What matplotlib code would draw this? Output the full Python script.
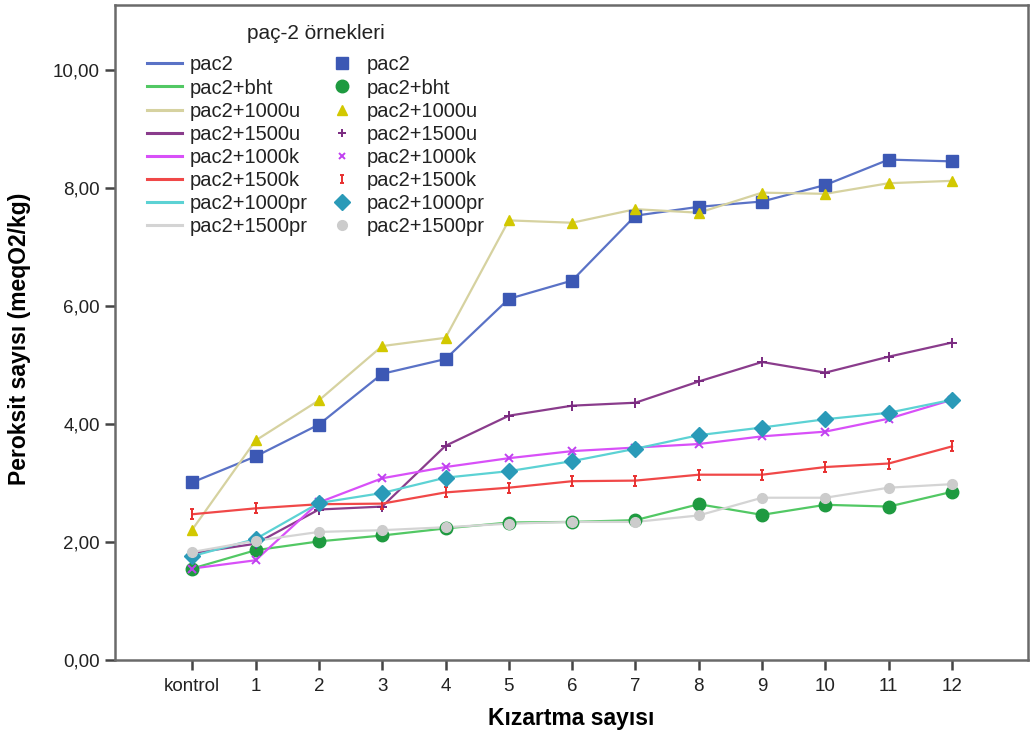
import matplotlib.pyplot as plt
import numpy as np
from matplotlib.path import Path
from matplotlib.lines import Line2D

plt.rcParams['font.family'] = ['Liberation Sans', 'DejaVu Sans']

x_labels = ['kontrol', '1', '2', '3', '4', '5', '6', '7', '8', '9', '10', '11', '12']

pac2 = [3.01, 3.45, 3.99, 4.85, 5.10, 6.12, 6.43, 7.53, 7.68, 7.77, 8.05, 8.48, 8.45]
pac2_bht = [1.55, 1.86, 2.01, 2.11, 2.23, 2.33, 2.34, 2.37, 2.64, 2.46, 2.63, 2.60, 2.85]
pac2_1000u = [2.21, 3.72, 4.40, 5.32, 5.46, 7.45, 7.41, 7.64, 7.58, 7.92, 7.90, 8.08, 8.12]
pac2_1500u = [1.81, 1.97, 2.55, 2.60, 3.63, 4.14, 4.31, 4.36, 4.72, 5.05, 4.87, 5.14, 5.38]
pac2_1000k = [1.55, 1.69, 2.67, 3.08, 3.27, 3.42, 3.54, 3.60, 3.66, 3.79, 3.87, 4.09, 4.41]
pac2_1500k = [2.47, 2.57, 2.64, 2.65, 2.84, 2.92, 3.03, 3.04, 3.14, 3.14, 3.27, 3.33, 3.62]
pac2_1000pr = [1.76, 2.05, 2.66, 2.83, 3.09, 3.20, 3.37, 3.58, 3.81, 3.94, 4.08, 4.19, 4.41]
pac2_1500pr = [1.83, 2.02, 2.17, 2.20, 2.25, 2.31, 2.34, 2.34, 2.45, 2.75, 2.75, 2.92, 2.98]

names = ['pac2', 'pac2+bht', 'pac2+1000u', 'pac2+1500u',
         'pac2+1000k', 'pac2+1500k', 'pac2+1000pr', 'pac2+1500pr']
series = [pac2, pac2_bht, pac2_1000u, pac2_1500u,
          pac2_1000k, pac2_1500k, pac2_1000pr, pac2_1500pr]

# "I" shaped marker like SPSS
i_marker = Path([(-0.5, 1), (0.5, 1), (0, 1), (0, -1), (-0.5, -1), (0.5, -1)],
                [Path.MOVETO, Path.LINETO, Path.MOVETO, Path.LINETO, Path.MOVETO, Path.LINETO])

line_colors = ['#5a72c6', '#52c864', '#d6d2a0', '#8a3c8c', '#d850f8', '#f04848', '#5cd2d4', '#d4d4d4']
mark_colors = ['#3c58b4', '#1e9a40', '#d2c800', '#7a2a80', '#c040f0', '#e83030', '#2a9ab8', '#cccccc']
markers = ['s', 'o', '^', '+', 'x', i_marker, 'D', 'o']
msizes = [8, 9, 7.5, 7, 6, 7, 8, 7]

fig = plt.figure(figsize=(10.30, 7.37), dpi=100)
ax = fig.add_axes([115 / 1030, 1 - 660 / 737, (1028 - 115) / 1030, (660 - 5) / 737])

x = np.arange(len(x_labels))
for s, lc, mc, m, ms in zip(series, line_colors, mark_colors, markers, msizes):
    ax.plot(x, s, color=lc, lw=1.6, zorder=2)
    if m in ('+', 'x') or m is i_marker:
        ax.plot(x, s, ls='none', marker=m, ms=ms, mec=mc, mew=1.4, zorder=3)
    else:
        ax.plot(x, s, ls='none', marker=m, ms=ms, mfc=mc, mec=mc, zorder=3)

ax.set_xlim(-1.22, 13.2)
ax.set_ylim(0, 11.1)
ax.set_yticks([0, 2, 4, 6, 8, 10])
ax.set_yticklabels(['0,00', '2,00', '4,00', '6,00', '8,00', '10,00'])
ax.set_xticks(x)
ax.set_xticklabels(x_labels)

for sp in ax.spines.values():
    sp.set_color('#6a6a6a')
    sp.set_linewidth(1.8)
ax.tick_params(axis='both', direction='out', length=7, width=1.8, color='#444444',
               labelsize=13.5, labelcolor='#222222', pad=4)
ax.tick_params(axis='x', pad=6)

ax.set_xlabel('Kızartma sayısı', fontsize=16.5, fontweight='bold', va='center')
ax.xaxis.set_label_coords(0.5, (660 - 718) / 655)
ax.set_ylabel('Peroksit sayısı (meqO2/kg)', fontsize=16.5, fontweight='bold', va='center')
ax.yaxis.set_label_coords(-(115 - 20) / 913, (660 - 339) / 655)

line_handles = [Line2D([], [], color=c, lw=2.2) for c in line_colors]
mark_handles = []
for mc, m, ms in zip(mark_colors, markers, msizes):
    if m in ('+', 'x') or m is i_marker:
        mark_handles.append(Line2D([], [], ls='none', marker=m, ms=ms * 0.8, mec=mc, mew=1.4))
    else:
        mark_handles.append(Line2D([], [], ls='none', marker=m, ms=ms, mfc=mc, mec=mc))

leg = ax.legend(line_handles + mark_handles, names + names, ncol=2,
                title='paç-2 örnekleri', frameon=False, fontsize=14.5,
                title_fontsize=15, loc='upper left',
                bbox_to_anchor=(147 / 1030, 1 - 24 / 737), bbox_transform=fig.transFigure,
                borderpad=0, borderaxespad=0, handlelength=1.75, handletextpad=0.35,
                columnspacing=0.85, labelspacing=0.2)
leg._legend_box.sep = 9
for t in leg.get_texts():
    t.set_color('#222222')
leg.get_title().set_color('#222222')

fig.savefig('out.png', dpi=100)
